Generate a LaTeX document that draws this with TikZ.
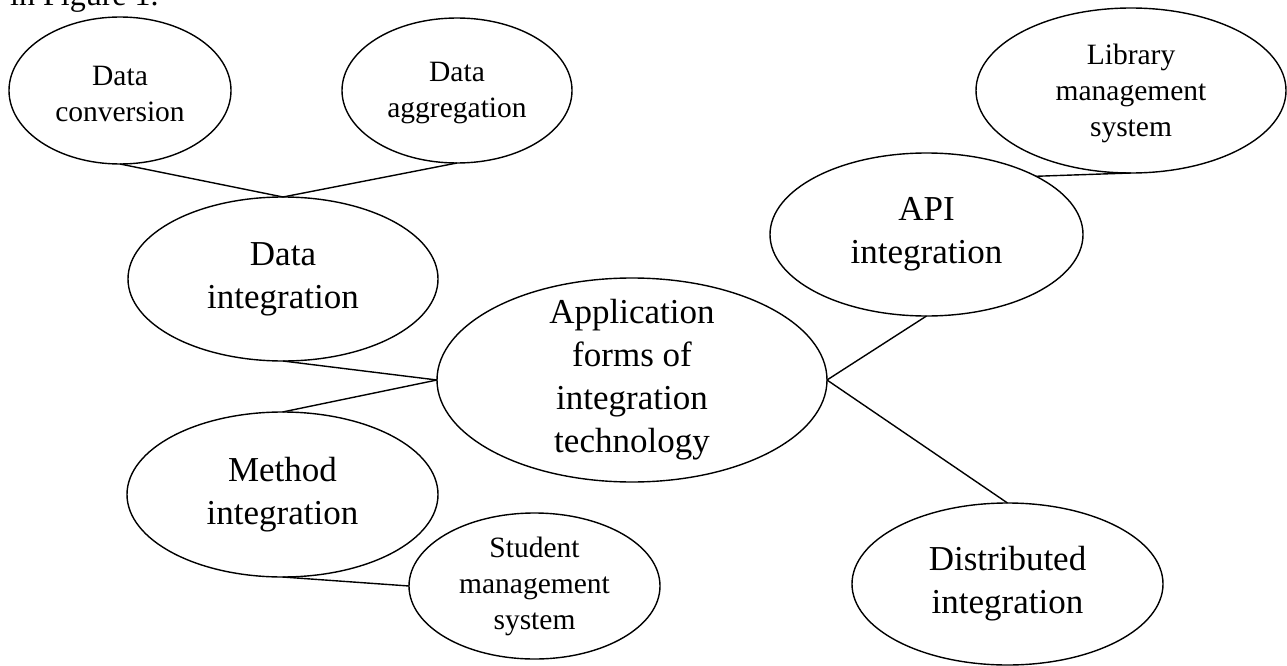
\documentclass[tikz,border=0pt]{standalone}
\usepackage{fontspec}
\setmainfont{Liberation Serif}
\usetikzlibrary{shapes.geometric}
\tikzset{
  ell/.style={draw, ellipse, inner sep=0pt, outer sep=0pt, line width=1.4pt},
  bigtxt/.style={font=\fontsize{35}{43}\selectfont, align=center, inner sep=0pt},
  smalltxt/.style={font=\fontsize{29.5}{36}\selectfont, align=center, inner sep=0pt},
  conn/.style={line width=1.4pt}
}
\begin{document}
\begin{tikzpicture}[x=1pt, y=-1pt]
\useasboundingbox (0,0) rectangle (1287,666);
% cut-off caption text at top (cut off in the reference too)
\node[anchor=base west, font=\fontsize{32}{38}\selectfont, inner sep=0pt] (fig) at (10,6) {in Figure 1.};
% ellipses
\node[ell, minimum width=222pt, minimum height=147pt] (dc) at (120,90.5) {};
\node[ell, minimum width=230pt, minimum height=145pt] (da) at (457,90.5) {};
\node[ell, minimum width=310pt, minimum height=165pt] (lib) at (1131,90.5) {};
\node[ell, minimum width=310pt, minimum height=164pt] (di) at (283,279) {};
\node[ell, minimum width=313pt, minimum height=163pt] (api) at (926.5,234.5) {};
\node[ell, minimum width=390pt, minimum height=204pt] (app) at (632,380) {};
\node[ell, minimum width=311pt, minimum height=165pt] (mi) at (282.5,494.5) {};
\node[ell, minimum width=251pt, minimum height=146pt] (sm) at (534.5,586) {};
\node[ell, minimum width=311pt, minimum height=162pt] (dist) at (1007.5,584) {};
% texts
\node[smalltxt] (dct) at ([yshift=-3pt]dc.center) {Data\\conversion};
\node[smalltxt] (dat) at ([yshift=-3pt]da.center) {Data\\aggregation};
\node[smalltxt] (libt) at ([yshift=-3pt]lib.center) {Library\\management\\system};
\node[bigtxt] (dit) at (di) {Data\\integration};
\node[bigtxt] (apit) at (api) {API\\integration};
\node[bigtxt] (appt) at (app) {Application\\forms of\\integration\\technology};
\node[bigtxt] (mit) at (mi) {Method\\integration};
\node[smalltxt] (smt) at (sm) {Student\\management\\system};
\node[bigtxt] (distt) at (dist) {Distributed\\integration};
% connectors
\draw[conn] (dc.south) -- (di.north);
\draw[conn] (da.south) -- (di.north);
\draw[conn] (di.south) -- (app.west);
\draw[conn] (mi.north) -- (app.west);
\draw[conn] (mi.south) -- (sm.west);
\draw[conn] (app.east) -- (api.south);
\draw[conn] (app.east) -- (dist.north);
\draw[conn] (lib.south) -- (api.28);
\end{tikzpicture}
\end{document}
